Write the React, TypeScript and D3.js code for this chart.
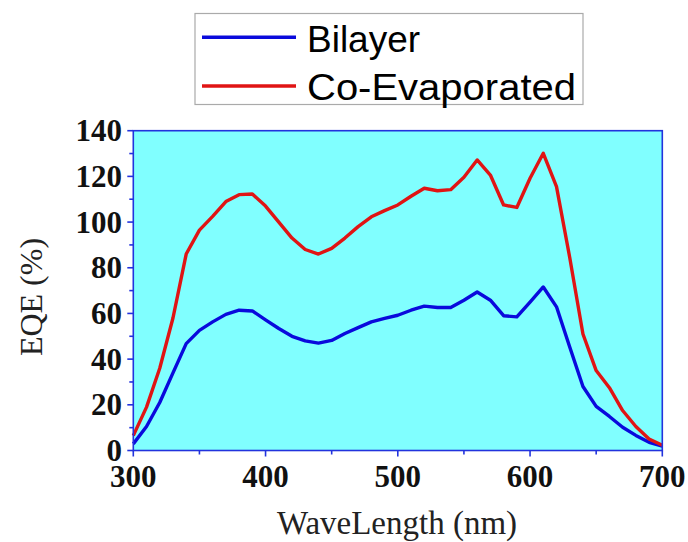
import React from "react";
import * as d3 from "d3";

const wavelengths = [300,310,320,330,340,350,360,370,380,390,400,410,420,430,440,450,460,470,480,490,500,510,520,530,540,550,560,570,580,590,600,610,620,630,640,650,660,670,680,690,700];
const bilayer = [2.9,10.5,21,34,46.8,52.6,56.3,59.6,61.4,61.1,57.2,53.4,50,48,47,48.2,51.2,53.8,56.3,57.8,59.2,61.4,63.2,62.6,62.6,65.8,69.4,65.8,59,58.5,65,71.6,62.9,45.3,28,19.3,14.9,10.2,6.6,3.6,1.9];
const coEvaporated = [6.5,19,36,58,86,96.5,102.5,109,112,112.3,107,100,93,88,86,88.5,93,98,102.3,105,107.5,111.3,114.8,113.7,114.2,119.6,127.2,120.6,107.5,106.4,119.2,130.1,115.5,84.5,51,35,27.5,17.5,10.5,5,2.3];
const xTicks = [300,400,500,600,700];
const xMinor = [350,450,550,650];
const yTicks = [0,20,40,60,80,100,120,140];
const yMinor = [10,30,50,70,90,110,130];
const seriesNames = ["Bilayer","Co-Evaporated"];
const seriesColors = ["#0a0adc","#e01414"];

export default function App() {
  const x = d3.scaleLinear().domain([300,700]).range([133.3,662.3]);
  const y = d3.scaleLinear().domain([0,140]).range([450.5,130.7]);
  const line = d3.line<number>().x((_, i) => x(wavelengths[i])).y(d => y(d));
  const axisColor = "#2233dd";
  const serif = "'Liberation Serif','Times New Roman',serif";
  const sans = "'Liberation Sans',Arial,sans-serif";
  const series = [bilayer, coEvaporated];
  return (
    <div style={{position:"absolute",left:0,top:0}}>
      <svg width={688} height={542} style={{display:"block",background:"#fff"}}>
        <rect x={x(300)} y={y(140)} width={x(700)-x(300)} height={y(0)-y(140)} fill="#80ffff" />
        {series.map((s, i) => (
          <path key={i} d={line(s) || ""} fill="none" stroke={seriesColors[i]} strokeWidth={3.4} strokeLinejoin="round" />
        ))}
        <rect x={x(300)} y={y(140)} width={x(700)-x(300)} height={y(0)-y(140)} fill="none" stroke={axisColor} strokeWidth={1.6} />
        {xTicks.map(t => (
          <g key={"xt"+t}>
            <line x1={x(t)} x2={x(t)} y1={y(0)} y2={y(0)+6} stroke={axisColor} strokeWidth={1.6} />
            <text x={x(t)} y={487} textAnchor="middle" fontFamily={serif} fontWeight="bold" fontSize={31} fill="#111">{t}</text>
          </g>
        ))}
        {xMinor.map(t => (
          <line key={"xm"+t} x1={x(t)} x2={x(t)} y1={y(0)} y2={y(0)+4} stroke={axisColor} strokeWidth={1.6} />
        ))}
        {yTicks.map(t => (
          <g key={"yt"+t}>
            <line x1={x(300)-6} x2={x(300)} y1={y(t)} y2={y(t)} stroke={axisColor} strokeWidth={1.6} />
            <text x={122} y={y(t)+10.5} textAnchor="end" fontFamily={serif} fontWeight="bold" fontSize={31} fill="#111">{t}</text>
          </g>
        ))}
        {yMinor.map(t => (
          <line key={"ym"+t} x1={x(300)-4} x2={x(300)} y1={y(t)} y2={y(t)} stroke={axisColor} strokeWidth={1.6} />
        ))}
        <text x={397} y={534} textAnchor="middle" fontFamily={serif} fontSize={33} fill="#222">WaveLength (nm)</text>
        <text transform="translate(42,297) rotate(-90)" textAnchor="middle" fontFamily={serif} fontSize={32} fill="#222">EQE (%)</text>
        <rect x={195} y={13.5} width={388} height={91} fill="#fff" stroke="#aaa" strokeWidth={1.2} />
        {seriesNames.map((n, i) => (
          <g key={n}>
            <line x1={202} x2={296} y1={37.3 + i*48.7} y2={37.3 + i*48.7} stroke={seriesColors[i]} strokeWidth={3.4} />
            <text x={307} y={51.7 + i*48.3} fontFamily={sans} fontSize={37} fill="#000" textLength={i===1?269:undefined} lengthAdjust="spacingAndGlyphs">{n}</text>
          </g>
        ))}
      </svg>
    </div>
  );
}
